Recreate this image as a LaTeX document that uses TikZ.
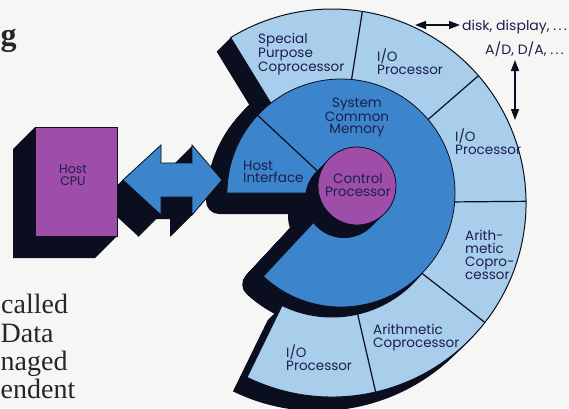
\documentclass[tikz,border=0pt]{standalone}
\usepackage{fontspec}
\newfontfamily\popfont{Poppins}
\newfontfamily\popwide[FakeStretch=1.04]{Poppins}
\newfontfamily\serfont{Liberation Serif}
\usetikzlibrary{arrows.meta}
\definecolor{ringblue}{RGB}{168,206,236}
\definecolor{memblue}{RGB}{60,133,205}
\definecolor{purp}{RGB}{158,78,168}
\definecolor{ink}{RGB}{10,14,30}
\definecolor{txt}{RGB}{27,31,74}
\definecolor{bg}{RGB}{246,246,245}
\def\ringpath{([shift={(-116:194)}]332,-203) arc[start angle=-116,end angle=121.5,radius=194] -- ([shift={(121.5:114)}]332,-203) arc[start angle=121.5,end angle=-116,radius=114] -- cycle}
\def\mempath{(341,-193) -- ([shift={(-133:114)}]341,-193) arc[start angle=-133,end angle=180,radius=114] -- cycle}
\def\arrowpath{(123,-180) -- (161,-145) -- (161,-163) -- (192,-163) -- (192,-145) -- (222,-180) -- (192,-215) -- (192,-197) -- (161,-197) -- (161,-215) -- cycle}
\begin{document}
\begin{tikzpicture}[x=1pt,y=1pt,
  lbl/.style={font=\popfont\fontsize{13.5}{12.4}\selectfont, text=txt, inner sep=0pt, align=left, anchor=base west},
  lblc/.style={lbl, align=center, anchor=base},
  side/.style={font=\popwide\fontsize{13.5}{13.5}\selectfont, text=txt, inner sep=0pt, anchor=base west},
  para/.style={font=\serfont\fontsize{28}{28}\selectfont, text=black!85, inner sep=0pt, anchor=base west},
  divider/.style={ink, line width=1.2pt},
  dblarrow/.style={ink, line width=1.5pt, {Triangle[length=11pt,width=8pt]}-{Triangle[length=11pt,width=8pt]}}]
\useasboundingbox (0,0) rectangle (569,-408);
\fill[bg] (0,0) rectangle (569,-408);
% background text fragments
\node[font=\serfont\bfseries\fontsize{32}{32}\selectfont, text=black!85, inner sep=0pt, anchor=base west] (title) at (0.5,-45) {g};
\node[para] (p1) at (1,-313) {called};
\node[para] (p2) at (0.5,-342) {Data};
\node[para] (p3) at (0.5,-370) {naged};
\node[para] (p4) at (0.5,-398) {endent};
% memory shadow
\foreach \i in {0,...,8} {\filldraw[ink, line width=26pt, line join=round, shift={(-\i,-\i)}] \mempath;}
% control column down into the gap
\draw[ink, line width=78pt, line cap=round] (357,-186) -- ++(-30,-30);
% ring sides and face
\foreach \i in {1,...,14} {\fill[ink,shift={(-\i,-\i)}] \ringpath;}
\fill[ringblue] \ringpath;
\foreach \a in {81,41,0.5,-38,-77} {\draw[divider] ([shift={(\a:114)}]332,-203) -- ([shift={(\a:194)}]332,-203);}
\draw[ink, line width=1pt] \ringpath;
% memory face
\fill[memblue] \mempath;
\draw[ink, line width=0.8pt] \mempath;
\draw[divider] (341,-193) -- ([shift={(137:114)}]341,-193);
% control processor
\draw[ink, line width=78pt, line cap=round] (357,-186) -- ++(-13,-13);
\filldraw[fill=purp, draw=ink, line width=0.8pt] (357,-186) circle[radius=39];
% double arrow host <-> interface
\foreach \i in {1,...,22} {\fill[ink,shift={(-\i,-\i)}] \arrowpath;}
\filldraw[fill=memblue, draw=ink, line width=0.8pt] \arrowpath;
% Host CPU
\fill[ink] (35,-127) -- (117,-127) -- (117,-236) -- (95,-258) -- (13,-258) -- (13,-149) -- cycle;
\filldraw[fill=purp, draw=ink, line width=0.8pt] (35,-127) rectangle (117,-236);
% labels (anchor = baseline of the last line)
\node[lblc, font=\popfont\fontsize{12.5}{12}\selectfont] (cpu) at (73,-185) {Host\\CPU};
\node[lbl] (sp) at (258,-71.5) {Special\\Purpose\\Coprocessor};
\node[lbl] (io1) at (377,-74) {I/O\\Processor};
\node[lblc] (mem) at (357,-133.5) {System\\Common\\Memory};
\node[lbl] (io2) at (455,-154) {I/O\\Processor};
\node[lbl] (hi) at (243,-182.5) {Host\\Interface};
\node[lblc] (cp) at (358,-196) {Control\\Processor};
\node[lbl, font=\popfont\fontsize{13.5}{13}\selectfont] (ar1) at (465,-279) {Arith-\\metic\\Copro-\\cessor};
\node[lbl] (ar2) at (373,-347) {Arithmetic\\Coprocessor};
\node[lbl] (io3) at (286,-370) {I/O\\Processor};
\node[side] (disk) at (462,-30) {disk, display, .\,.\,.};
\node[side] (ad) at (485,-54) {A/D, D/A, .\,.\,.};
% external connectors
\coordinate (hl) at (415,-25);
\coordinate (hr) at (460,-25);
\coordinate (vt) at (515,-60);
\coordinate (vb) at (515,-120);
\draw[dblarrow] (hl) -- (hr);
\draw[dblarrow] (vt) -- (vb);
\end{tikzpicture}
\end{document}
